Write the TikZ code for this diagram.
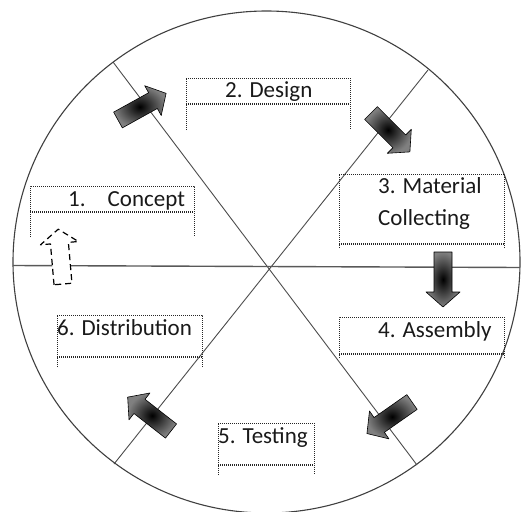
\documentclass[tikz,border=0pt]{standalone}
\usepackage{fontspec}
\setmainfont{Carlito}
\newcommand{\labelbox}[5]{%
	\draw[dotline] (#1,#5)--(#1,#3)--(#2,#3)--(#2,#5);
	\draw[dotline] (#1,#4)--(#2,#4) (#1,#4+1.4)--(#2,#4+1.4);
}
\tikzset{
	blockarrow/.pic={
		\shadedraw[draw=black,line width=.6pt,inner color=black,outer color=black!50]
		(0,-9)--(40,-9)--(40,-17)--(55,0)--(40,17)--(40,9)--(0,9)--cycle;
	},
	dashedarrow/.pic={
		\filldraw[fill=white,draw=black,line width=1.2pt,dash pattern=on 6pt off 4pt]
		(0,-9)--(41,-9)--(41,-19)--(55,0)--(41,19)--(41,9)--(0,9)--cycle;
	}
}
\begin{document}
\begin{tikzpicture}[x=1pt,y=-1pt,line join=round,font=\fontsize{23}{27}\selectfont,
	rim/.style={line width=1.1pt,black!75},
	spoke/.style={line width=.9pt,black!70},
	dotline/.style={black!85,line width=1pt,dash pattern=on 1pt off 1pt},
	step label/.style={anchor=base west,inner sep=0pt,text=black!90}]
	\clip (0,0) rectangle (521,511);
	\useasboundingbox (0,0) rectangle (521,511);
	\draw[rim] (266.5,262) ellipse [x radius=253.5,y radius=251];
	\coordinate (a1) at (113,62);
	\coordinate (a2) at (417,465);
	\coordinate (b1) at (428,70);
	\coordinate (b2) at (114,464);
	\coordinate (h1) at (13,265.5);
	\coordinate (h2) at (520,267.5);
	\draw[spoke] (a1)--(a2) (b1)--(b2);
	\draw[spoke,line width=1.4pt,black!65] (h1)--(h2);
	\labelbox{30}{194}{186}{211}{237}
	\labelbox{186}{350}{78}{103}{130}
	\labelbox{339}{504}{174}{243}{248}
	\labelbox{339}{504}{317}{353}{358}
	\labelbox{57}{202}{315}{356}{367}
	\labelbox{218}{314}{423}{464}{475}
	\node[step label] (concept) at (68,206) {1.\hspace{22pt}Concept};
	\node[step label] (design) at (225,97) {2. Design};
	\node[step label] (material) at (378,193) {3. Material};
	\node[step label] (collecting) at (378,225) {Collecting};
	\node[step label] (assembly) at (378,337) {4. Assembly};
	\node[step label] (testing) at (218,443) {5. Testing};
	\node[step label] (distribution) at (57,335) {6. Distribution};
	\pic[rotate=29] at (118,120) {blockarrow};
	\pic[rotate=-45] at (371,113) {blockarrow};
	\pic[rotate=-90] at (443,252) {blockarrow};
	\pic[rotate=-145] at (412,402) {blockarrow};
	\pic[rotate=142] at (171,431) {blockarrow};
	\pic[rotate=95] at (63,284) {dashedarrow};
\end{tikzpicture}
\end{document}
